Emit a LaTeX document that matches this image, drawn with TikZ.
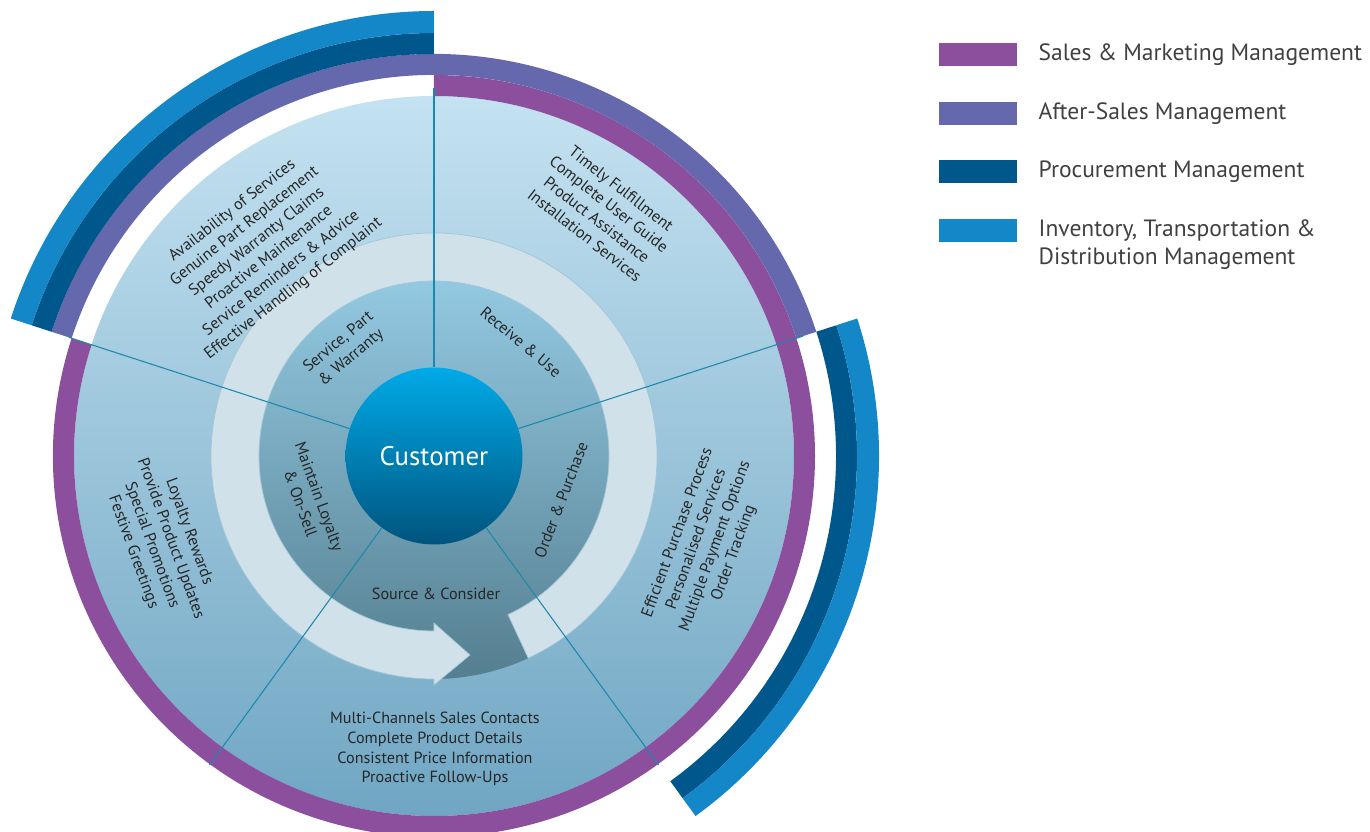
\documentclass[tikz,border=0pt]{standalone}
\usepackage{fontspec}
\setmainfont{PT Sans}
\usetikzlibrary{positioning}
\definecolor{salesc}{HTML}{8C4F9D}
\definecolor{afterc}{HTML}{6568AD}
\definecolor{procc}{HTML}{00578B}
\definecolor{invc}{HTML}{1387C8}
\definecolor{ringc}{HTML}{D0E1E9}
\definecolor{linec}{HTML}{1C88AD}
\definecolor{txtc}{HTML}{262626}
\definecolor{keyc}{HTML}{404040}
\begin{document}
\begin{tikzpicture}[x=.02cm, y=.02cm,
  lbl/.style={text=txtc, align=center, inner sep=0pt, font=\fontsize{9.2}{11.3}\selectfont},
  divider/.style={linec, line width=.6pt},
  keybox/.style={minimum width=1.56cm, minimum height=.46cm, inner sep=0pt},
  keytxt/.style={text=keyc, inner sep=0pt, align=left, font=\fontsize{13.4}{15.9}\selectfont}]
\useasboundingbox (-434,-376) rectangle (936,456);

% big disc and the rings round it
\shade [top color={rgb,255:red,196;green,226;blue,241}, bottom color={rgb,255:red,112;green,166;blue,195}] (0,0) circle (360);
\fill [salesc] (90:360) arc (90:-198:360) -- (-198:381) arc (-198:90:381) -- cycle;
\fill [afterc] (18:381) arc (18:162:381) -- (162:402) arc (162:18:402) -- cycle;
\fill [procc] (90:402) arc (90:162:402) -- (162:423) arc (162:90:423) -- cycle;
\fill [procc] (-54:402) arc (-54:18:402) -- (18:423) arc (18:-54:423) -- cycle;
\fill [invc] (90:423) arc (90:162:423) -- (162:445) arc (162:90:445) -- cycle;
\fill [invc] (-54:423) arc (-54:18:423) -- (18:445) arc (18:-54:445) -- cycle;

% inner disc with the tail, then the arrow ring
\shade [top color={rgb,255:red,148;green,202;blue,227}, bottom color={rgb,255:red,84;green,126;blue,143}]
  (-65:223) arc (-65:-95:223) -- (-95:175) arc (-95:-425:175) -- cycle;
\fill [ringc, draw={rgb,255:red,160;green,198;blue,214}, line width=.4pt]
  (-65:223) arc (-65:270:223) -- (270:229) -- (36,-199) -- (270:167) -- (270:175) arc (270:-65:175) -- cycle;

\node [circle, minimum size=3.54cm, top color={rgb,255:red,0;green,170;blue,232}, bottom color={rgb,255:red,0;green,84;blue,126},
  text=white, font=\fontsize{15.3}{18}\selectfont] (cust) at (0,0) {Customer};

\foreach \a/\r [count=\i] in {90/368, 18/388, -54/382, -126/382, 162/384}
  \coordinate (rim\i) at (\a:\r);
\foreach \i in {1,...,5}
  \draw [divider] (cust) -- (rim\i);

% stage labels
\node [lbl, rotate=40] (svc) at (-89,106) {Service, Part\\\& Warranty};
\node [lbl, rotate=-40] (recv) at (87,114) {Receive \& Use};
\node [lbl, rotate=69] (order) at (127,-44) {Order \& Purchase};
\node [lbl] (source) at (2,-138) {Source \& Consider};
\node [lbl, rotate=-70] (loyal) at (-124,-44) {Maintain Loyalty\\\& On-Sell};

% outer labels
\node [lbl, rotate=38] (svcitems) at (-171,206) {Availability of Services\\Genuine Part Replacement\\Speedy Warranty Claims\\Proactive Maintenance\\Service Reminders \& Advice\\Effective Handling of Complaint};
\node [lbl, rotate=-38] (recvitems) at (169,244) {Timely Fulfillment\\Complete User Guide\\Product Assistance\\Installation Services};
\node [lbl, rotate=70] (orderitems) at (272,-87) {Efficient Purchase Process\\Personalised Services\\Multiple Payment Options\\Order Tracking};
\node [lbl] (sourceitems) at (1,-293) {Multi-Channels Sales Contacts\\Complete Product Details\\Consistent Price Information\\Proactive Follow-Ups};
\node [lbl, rotate=-70] (loyalitems) at (-273,-86) {Loyalty Rewards\\Provide Product Updates\\Special Promotions\\Festive Greetings};

% legend
\node [keybox, fill=salesc] (key1) at (544,401.5) {};
\node [keybox, fill=afterc, below=.70cm of key1] (key2) {};
\node [keybox, fill=procc, below=.70cm of key2] (key3) {};
\node [keybox, fill=invc, below=.70cm of key3] (key4) {};
\node [keytxt, right=.42cm of key1] {Sales \& Marketing Management};
\node [keytxt, right=.42cm of key2] {After-Sales Management};
\node [keytxt, right=.42cm of key3] {Procurement Management};
\node [keytxt, right=.42cm of key4, yshift=-.28cm] {Inventory, Transportation \&\\Distribution Management};
\end{tikzpicture}
\end{document}
